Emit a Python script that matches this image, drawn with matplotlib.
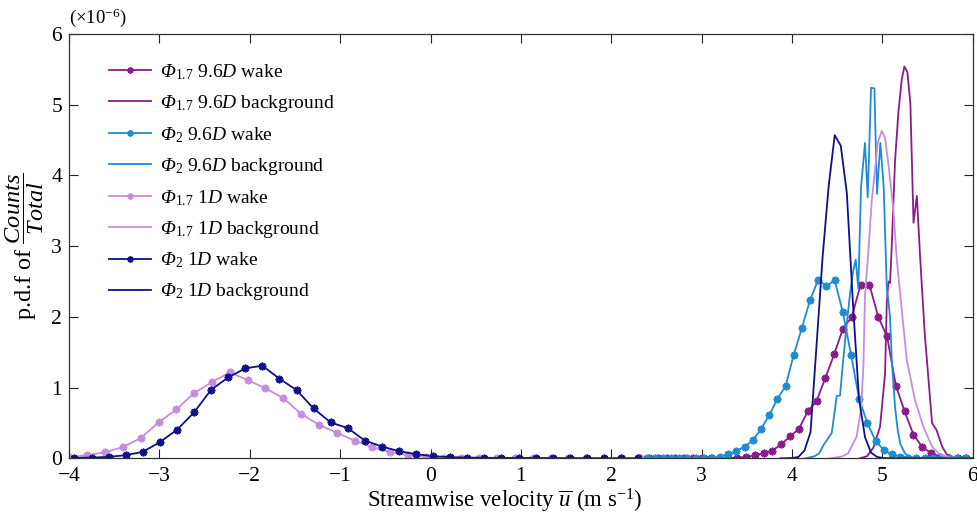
import matplotlib
matplotlib.use("Agg")
import matplotlib.pyplot as plt
import numpy as np

plt.rcParams['font.family'] = ['Liberation Serif', 'DejaVu Serif']
plt.rcParams['mathtext.fontset'] = 'custom'
plt.rcParams['mathtext.rm'] = 'Liberation Serif'
plt.rcParams['mathtext.it'] = 'Liberation Serif:italic'
# mathtext keeps capital Greek upright in \mathit, so route italic Phi via \mathsf
plt.rcParams['mathtext.sf'] = 'Liberation Serif:italic'

# --- wake series (markers), bin centres
# Phi_1.7 at 9.6D, wake
x_p17_96_wake = np.linspace(2.32, 5.93, 38)
y_p17_96_wake = [0, 0, 0, 0, 0, 0, 0, 0, 0, 0.002, 0.005, 0.01, 0.02, 0.042,
                 0.075, 0.11, 0.2, 0.31, 0.416, 0.663, 0.81, 1.135, 1.47, 1.834,
                 2.0, 2.457, 2.457, 2.0, 1.725, 1.027, 0.663, 0.333, 0.159, 0.074,
                 0.025, 0.007, 0.002, 0]

# Phi_2 at 9.6D, wake
x_p2_96_wake = np.linspace(2.30, 5.92, 41)
y_p2_96_wake = [0, 0, 0, 0, 0, 0, 0.001, 0.002, 0.004, 0.008, 0.02, 0.06, 0.104,
                0.167, 0.255, 0.414, 0.61, 0.84, 1.02, 1.466, 1.844, 2.24, 2.528,
                2.433, 2.518, 2.07, 1.466, 0.843, 0.499, 0.25, 0.115, 0.055, 0.025,
                0.012, 0.006, 0.004, 0.003, 0.002, 0.001, 0, 0]

# Phi_1.7 at 1D, wake
x_p17_1_wake = np.linspace(-3.996, 2.314, 33)
y_p17_1_wake = [0.017, 0.045, 0.088, 0.159, 0.286, 0.507, 0.691, 0.924, 1.079,
                1.215, 1.108, 0.989, 0.853, 0.63, 0.474, 0.361, 0.252, 0.159,
                0.088, 0.045, 0.021, 0.011, 0.007, 0.005, 0.004, 0.003, 0.002,
                0.002, 0.001, 0.001, 0.001, 0, 0]

# Phi_2 at 1D, wake
x_p2_1_wake = np.linspace(-3.94, 2.297, 34)
y_p2_1_wake = [0.007, 0.011, 0.021, 0.045, 0.092, 0.229, 0.404, 0.649, 0.97,
               1.144, 1.272, 1.31, 1.126, 0.966, 0.705, 0.507, 0.428, 0.252,
               0.167, 0.102, 0.059, 0.031, 0.017, 0.011, 0.008, 0.006, 0.005,
               0.004, 0.003, 0.002, 0.002, 0.001, 0.001, 0.001]

# --- background series (plain lines)
x_p17_96_bg = [4.75, 4.83, 4.90, 4.975, 5.03, 5.049, 5.067, 5.085, 5.104, 5.14,
               5.178, 5.215, 5.244, 5.277, 5.31, 5.345, 5.382, 5.42, 5.47, 5.55,
               5.60, 5.66, 5.71, 5.79, 5.85, 6.0]
y_p17_96_bg = [0, 0.03, 0.15, 0.45, 1.2, 2.2, 2.5, 2.48, 3.0, 4.2, 4.9, 5.36,
               5.54, 5.46, 5.02, 3.33, 3.71, 2.8, 1.75, 0.5, 0.4, 0.17, 0.06,
               0.01, 0, 0]

x_p2_96_bg = [4.15, 4.25, 4.30, 4.35, 4.44, 4.495, 4.532, 4.56, 4.606, 4.64,
              4.67, 4.705, 4.734, 4.764, 4.808, 4.838, 4.875, 4.912, 4.941,
              4.978, 5.015, 5.049, 5.067, 5.085, 5.104, 5.14, 5.17, 5.2, 5.25,
              5.3, 5.4, 6.0]
y_p2_96_bg = [0, 0.03, 0.07, 0.19, 0.36, 0.88, 0.89, 1.3, 1.9, 2.3, 2.6, 2.81,
              2.4, 3.83, 4.46, 3.69, 5.24, 5.23, 3.74, 4.46, 3.83, 2.41, 2.22,
              2.0, 1.395, 0.73, 0.4, 0.2, 0.07, 0.02, 0, 0]

x_p17_1_bg = [4.42, 4.55, 4.623, 4.716, 4.764, 4.79, 4.808, 4.845, 4.883, 4.949,
              4.993, 5.03, 5.067, 5.12, 5.16, 5.196, 5.27, 5.36, 5.453, 5.55,
              5.64, 5.75, 5.85, 6.0]
y_p17_1_bg = [0, 0.025, 0.074, 0.31, 0.69, 1.3, 2.3, 2.93, 3.64, 4.46, 4.63,
              4.53, 4.16, 3.54, 2.81, 2.34, 1.395, 0.83, 0.45, 0.167, 0.05, 0.01,
              0, 0]

x_p2_1_bg = [3.87, 3.937, 4.004, 4.071, 4.138, 4.205, 4.272, 4.339, 4.406,
             4.473, 4.54, 4.607, 4.674, 4.741, 4.808, 4.875, 4.942, 5.009, 5.1,
             6.0]
y_p2_1_bg = [0, 0.002, 0.005, 0.02, 0.11, 0.37, 1.6, 2.85, 3.85, 4.57, 4.42,
             3.75, 2.2, 0.85, 0.3, 0.08, 0.02, 0.005, 0, 0]

purple = '#8C1A8C'
lblue = '#1E8BD2'
lpurple = '#C48EE0'
navy = '#10108A'

mk = dict(marker=(8, 2, 0), markersize=5.5, markeredgewidth=1.3, lw=1.3)

fig = plt.figure(figsize=(9.78, 5.15), dpi=100)
ax = fig.add_axes([0.0706, 0.110, 0.924, 0.824])

ax.plot(x_p17_96_wake, y_p17_96_wake, color=purple,
        label=r'$\mathsf{\Phi}_{1.7}$ 9.6$\mathit{D}$ wake', **mk)
ax.plot(x_p17_96_bg, y_p17_96_bg, color=purple, lw=1.3,
        label=r'$\mathsf{\Phi}_{1.7}$ 9.6$\mathit{D}$ background')
ax.plot(x_p2_96_wake, y_p2_96_wake, color=lblue,
        label=r'$\mathsf{\Phi}_{2}$ 9.6$\mathit{D}$ wake', **mk)
ax.plot(x_p2_96_bg, y_p2_96_bg, color=lblue, lw=1.3,
        label=r'$\mathsf{\Phi}_{2}$ 9.6$\mathit{D}$ background')
ax.plot(x_p17_1_wake, y_p17_1_wake, color=lpurple,
        label=r'$\mathsf{\Phi}_{1.7}$ 1$\mathit{D}$ wake', **mk)
ax.plot(x_p17_1_bg, y_p17_1_bg, color=lpurple, lw=1.3,
        label=r'$\mathsf{\Phi}_{1.7}$ 1$\mathit{D}$ background')
ax.plot(x_p2_1_wake, y_p2_1_wake, color=navy,
        label=r'$\mathsf{\Phi}_{2}$ 1$\mathit{D}$ wake', **mk)
ax.plot(x_p2_1_bg, y_p2_1_bg, color=navy, lw=1.3,
        label=r'$\mathsf{\Phi}_{2}$ 1$\mathit{D}$ background')

ax.set_xlim(-4, 6)
ax.set_ylim(0, 6)
ax.set_xticks(range(-4, 7))
ax.set_yticks(range(0, 7))
ax.tick_params(direction='in', length=6.5, width=0.8, top=True, right=True,
               labelsize=15.5, colors='#222222', labelcolor='black')
ax.tick_params(axis='x', pad=6)
ax.tick_params(axis='y', pad=5)
for s in ax.spines.values():
    s.set_color('#333333')
    s.set_linewidth(0.9)

ax.set_xlabel(r'Streamwise velocity $\overline{u}$ (m s$^{-1}$)', fontsize=16.5)
ax.xaxis.set_label_coords(0.482, -0.066)
ax.set_ylabel(r'p.d.f of $\dfrac{\mathit{Counts}}{\mathit{Total}}$', fontsize=17.5)
ax.yaxis.set_label_coords(-0.026, 0.5)
ax.text(0.0, 1.012, r'($\times$10$^{-6}$)', transform=ax.transAxes,
        fontsize=13.5, ha='left', va='bottom')

leg = ax.legend(loc='upper left', bbox_to_anchor=(0.025, 0.975), frameon=False,
                fontsize=14, handlelength=2.15, labelspacing=0.57,
                handletextpad=0.45, markerscale=0.8)

fig.savefig('out.png', dpi=100)
